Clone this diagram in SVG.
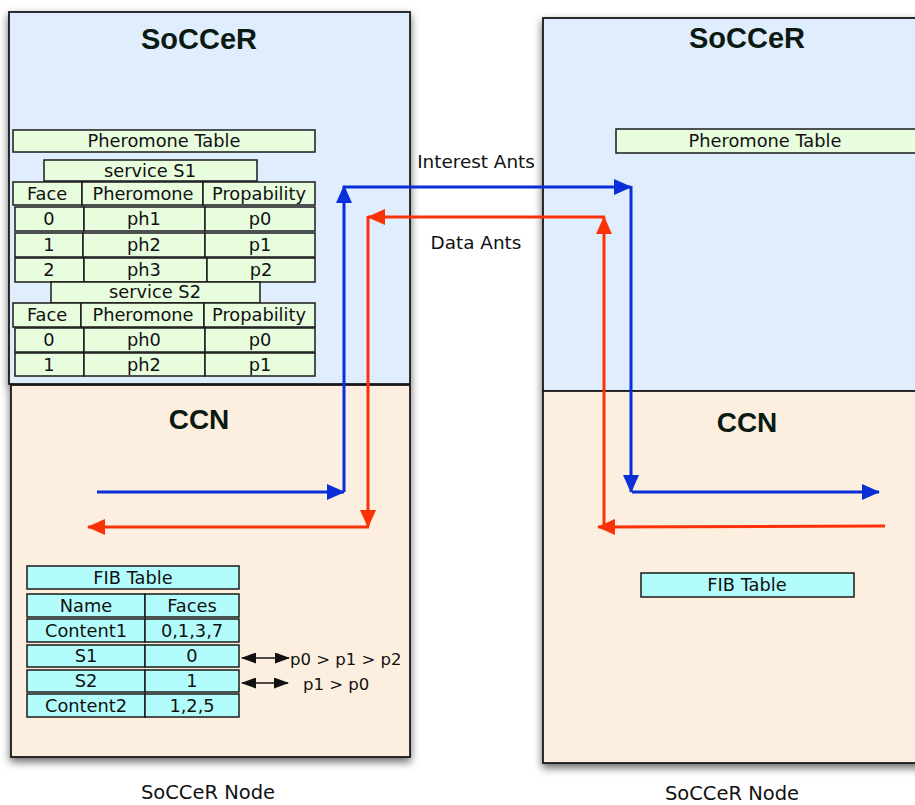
<svg xmlns="http://www.w3.org/2000/svg" width="915" height="805" viewBox="0 0 915 805">
  <style>
    .layer-soccer { fill: #e0edfd; stroke: #1a1a1a; stroke-width: 1.8; }
    .layer-ccn { fill: #fdefdf; stroke: #1a1a1a; stroke-width: 1.8; }
    .pher { fill: #e8fcde; stroke: #1a1a1a; stroke-width: 1.5; }
    .fib { fill: #b3fcfc; stroke: #1a1a1a; stroke-width: 1.5; }
    .title { font-family: "Liberation Sans", Arial, sans-serif; font-weight: bold; font-size: 29px; fill: #0a1a12; text-anchor: middle; }
    .sub { font-family: "Liberation Sans", Arial, sans-serif; font-weight: bold; font-size: 28px; fill: #0a1a12; text-anchor: middle; }
    .cell { font-family: "DejaVu Sans", "Liberation Sans", sans-serif; font-size: 17.8px; fill: #111; text-anchor: middle; }
    .note { font-family: "DejaVu Sans", "Liberation Sans", sans-serif; font-size: 16.5px; fill: #111; }
    .ants { font-family: "DejaVu Sans", "Liberation Sans", sans-serif; font-size: 18.4px; fill: #111; text-anchor: middle; }
    .caption { font-family: "DejaVu Sans", "Liberation Sans", sans-serif; font-size: 19.5px; fill: #111; text-anchor: middle; }
    .blue { stroke: #0a2fd8; stroke-width: 3; fill: none; marker-end: url(#headBlue); }
    .red { stroke: #fb3208; stroke-width: 3; fill: none; marker-end: url(#headRed); }
    .link { stroke: #111; stroke-width: 1.6; fill: none; marker-start: url(#headBlackStart); marker-end: url(#headBlack); }
  </style>
  <defs>
    <filter id="shadow" x="-10%" y="-10%" width="120%" height="120%">
      <feDropShadow dx="0" dy="4" stdDeviation="4" flood-color="#000" flood-opacity="0.6"/>
    </filter>
    <marker id="headBlue" markerUnits="userSpaceOnUse" markerWidth="18" markerHeight="16" refX="17" refY="8" orient="auto">
      <path d="M0,0 L18,8 L0,16 Z" fill="#0a2fd8"/>
    </marker>
    <marker id="headRed" markerUnits="userSpaceOnUse" markerWidth="18" markerHeight="16" refX="17" refY="8" orient="auto">
      <path d="M0,0 L18,8 L0,16 Z" fill="#fb3208"/>
    </marker>
    <marker id="headBlack" markerUnits="userSpaceOnUse" markerWidth="15" markerHeight="11" refX="14" refY="5.5" orient="auto">
      <path d="M0,0 L15,5.5 L0,11 Z" fill="#111"/>
    </marker>
    <marker id="headBlackStart" markerUnits="userSpaceOnUse" markerWidth="15" markerHeight="11" refX="1" refY="5.5" orient="auto">
      <path d="M15,0 L0,5.5 L15,11 Z" fill="#111"/>
    </marker>
  </defs>

  <rect width="915" height="805" fill="#ffffff"/>

  <!-- Left node -->
  <g id="node-left">
    <g filter="url(#shadow)">
      <rect class="layer-soccer" x="9" y="12" width="401" height="372"/>
      <rect class="layer-ccn" x="11" y="385" width="399" height="372"/>
    </g>
    <text class="title" x="199" y="49">SoCCeR</text>
    <text class="sub" x="199" y="429">CCN</text>

    <g id="pheromone-table-left">
      <rect class="pher" x="13" y="130" width="302" height="22"/>
      <text class="cell" x="164" y="147">Pheromone Table</text>

      <rect class="pher" x="44" y="160" width="213" height="21"/>
      <text class="cell" x="150" y="177">service S1</text>
      <rect class="pher" x="13" y="182" width="69" height="23"/>
      <rect class="pher" x="82" y="182" width="121" height="23"/>
      <rect class="pher" x="203" y="182" width="112" height="23"/>
      <text class="cell" x="47" y="200">Face</text>
      <text class="cell" x="143" y="200">Pheromone</text>
      <text class="cell" x="259" y="200">Propability</text>

      <rect class="pher" x="15" y="207" width="69" height="24"/>
      <rect class="pher" x="84" y="207" width="121" height="24"/>
      <rect class="pher" x="205" y="207" width="110" height="24"/>
      <text class="cell" x="49" y="225">0</text>
      <text class="cell" x="144" y="225">ph1</text>
      <text class="cell" x="260" y="225">p0</text>

      <rect class="pher" x="15" y="233" width="68" height="24"/>
      <rect class="pher" x="83" y="233" width="122" height="24"/>
      <rect class="pher" x="205" y="233" width="110" height="24"/>
      <text class="cell" x="49" y="251">1</text>
      <text class="cell" x="144" y="251">ph2</text>
      <text class="cell" x="260" y="251">p1</text>

      <rect class="pher" x="15" y="258" width="69" height="24"/>
      <rect class="pher" x="84" y="258" width="123" height="24"/>
      <rect class="pher" x="207" y="258" width="108" height="24"/>
      <text class="cell" x="49" y="276">2</text>
      <text class="cell" x="144" y="276">ph3</text>
      <text class="cell" x="261" y="276">p2</text>

      <rect class="pher" x="51" y="282" width="209" height="21"/>
      <text class="cell" x="155" y="298">service S2</text>
      <rect class="pher" x="13" y="303" width="68" height="24"/>
      <rect class="pher" x="81" y="303" width="123" height="24"/>
      <rect class="pher" x="204" y="303" width="111" height="24"/>
      <text class="cell" x="47" y="321">Face</text>
      <text class="cell" x="143" y="321">Pheromone</text>
      <text class="cell" x="259" y="321">Propability</text>

      <rect class="pher" x="15" y="328" width="69" height="24"/>
      <rect class="pher" x="84" y="328" width="121" height="24"/>
      <rect class="pher" x="205" y="328" width="110" height="24"/>
      <text class="cell" x="49" y="346">0</text>
      <text class="cell" x="144" y="346">ph0</text>
      <text class="cell" x="260" y="346">p0</text>

      <rect class="pher" x="15" y="353" width="69" height="23"/>
      <rect class="pher" x="84" y="353" width="121" height="23"/>
      <rect class="pher" x="205" y="353" width="110" height="23"/>
      <text class="cell" x="49" y="371">1</text>
      <text class="cell" x="144" y="371">ph2</text>
      <text class="cell" x="260" y="371">p1</text>
    </g>

    <g id="fib-table-left">
      <rect class="fib" x="27" y="566" width="212" height="23"/>
      <text class="cell" x="133" y="584">FIB Table</text>

      <rect class="fib" x="27" y="594" width="118" height="23"/>
      <rect class="fib" x="145" y="594" width="94" height="23"/>
      <text class="cell" x="86" y="612">Name</text>
      <text class="cell" x="192" y="612">Faces</text>

      <rect class="fib" x="27" y="619" width="118" height="23"/>
      <rect class="fib" x="145" y="619" width="94" height="23"/>
      <text class="cell" x="86" y="637">Content1</text>
      <text class="cell" x="192" y="637">0,1,3,7</text>

      <rect class="fib" x="27" y="645" width="118" height="22"/>
      <rect class="fib" x="145" y="645" width="94" height="22"/>
      <text class="cell" x="86" y="662">S1</text>
      <text class="cell" x="192" y="662">0</text>

      <rect class="fib" x="27" y="670" width="118" height="22"/>
      <rect class="fib" x="145" y="670" width="94" height="22"/>
      <text class="cell" x="86" y="687">S2</text>
      <text class="cell" x="192" y="687">1</text>

      <rect class="fib" x="27" y="694" width="118" height="23"/>
      <rect class="fib" x="145" y="694" width="94" height="23"/>
      <text class="cell" x="86" y="712">Content2</text>
      <text class="cell" x="192" y="712">1,2,5</text>
    </g>

    <g id="fib-notes">
      <line class="link" x1="242" y1="658" x2="289" y2="658"/>
      <text class="note" x="290" y="665">p0 &gt; p1 &gt; p2</text>
      <line class="link" x1="242" y1="683" x2="288" y2="683"/>
      <text class="note" x="303" y="690">p1 &gt; p0</text>
    </g>
  </g>

  <!-- Right node -->
  <g id="node-right">
    <g filter="url(#shadow)">
      <rect class="layer-soccer" x="543" y="18" width="380" height="373"/>
      <rect class="layer-ccn" x="543" y="391" width="380" height="372"/>
    </g>
    <text class="title" x="747" y="48">SoCCeR</text>
    <text class="sub" x="747" y="432">CCN</text>
    <g id="pheromone-table-right">
      <rect class="pher" x="616" y="129" width="310" height="24"/>
      <text class="cell" x="765" y="147">Pheromone Table</text>
    </g>
    <g id="fib-table-right">
      <rect class="fib" x="641" y="573" width="213" height="24"/>
      <text class="cell" x="747" y="591">FIB Table</text>
    </g>
  </g>

  <!-- Ant paths between the two nodes -->
  <g id="connectors">
    <line class="blue" x1="97" y1="492" x2="344" y2="492"/>
    <line class="blue" x1="344" y1="492" x2="344" y2="186"/>
    <line class="blue" x1="343" y1="187" x2="631" y2="187"/>
    <line class="blue" x1="631" y1="186" x2="631" y2="492"/>
    <line class="blue" x1="632" y1="492" x2="879" y2="492"/>

    <line class="red" x1="885" y1="526" x2="598" y2="527"/>
    <line class="red" x1="604" y1="528" x2="604" y2="217"/>
    <line class="red" x1="605" y1="217" x2="368" y2="217"/>
    <line class="red" x1="368" y1="216" x2="368" y2="527"/>
    <line class="red" x1="369" y1="527" x2="88" y2="527"/>
  </g>

  <g id="labels">
    <text class="ants" x="476" y="168">Interest Ants</text>
    <text class="ants" x="476" y="249">Data Ants</text>
    <text class="caption" x="208" y="799">SoCCeR Node</text>
    <text class="caption" x="732" y="800">SoCCeR Node</text>
  </g>
</svg>
